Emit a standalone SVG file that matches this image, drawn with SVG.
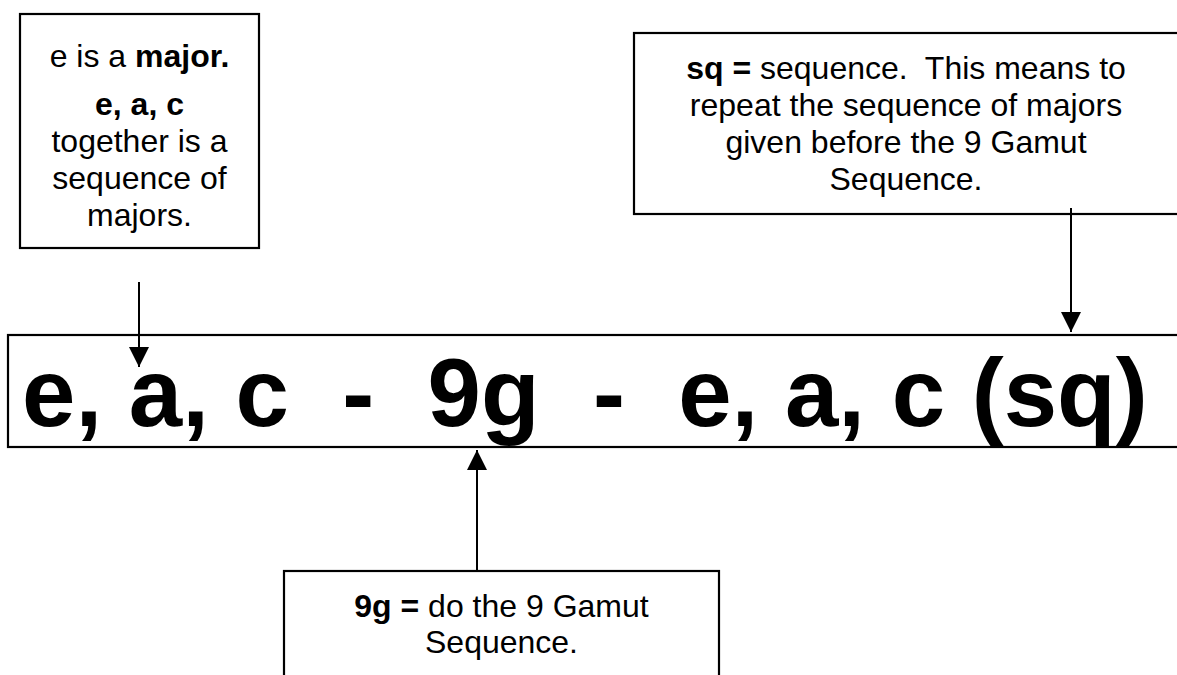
<svg xmlns="http://www.w3.org/2000/svg" width="1177" height="675" viewBox="0 0 1177 675">
<style>
  .box { fill: #ffffff; stroke: #000000; stroke-width: 2.2; }
  .t { font-family: "Liberation Sans", Arial, sans-serif; font-size: 32px; fill: #000000; text-anchor: middle; }
  .b { font-weight: bold; }
  .main { font-family: "Liberation Sans", Arial, sans-serif; font-size: 96px; font-weight: bold; fill: #000000; white-space: pre; }
  .conn { stroke: #000000; stroke-width: 2; fill: none; }
</style>
<defs>
  <marker id="arrow" markerUnits="userSpaceOnUse" markerWidth="20" markerHeight="20" refX="20" refY="10" orient="auto" viewBox="0 0 20 20">
    <path d="M0,0 L20,10 L0,20 Z" fill="#000000"/>
  </marker>
</defs>
<rect width="1177" height="675" fill="#ffffff"/>

<g id="node-major">
  <rect class="box" x="20" y="14" width="239" height="234"/>
  <text class="t" x="139.5" y="67">e is a <tspan class="b">major.</tspan></text>
  <text class="t b" x="139.5" y="115">e, a, c</text>
  <text class="t" x="139.5" y="152">together is a</text>
  <text class="t" x="139.5" y="189">sequence of</text>
  <text class="t" x="139.5" y="226">majors.</text>
</g>

<g id="node-sq">
  <rect class="box" x="634" y="33" width="560" height="181"/>
  <text class="t" x="906" y="79" xml:space="preserve"><tspan class="b">sq =</tspan> sequence.  This means to</text>
  <text class="t" x="906" y="116">repeat the sequence of majors</text>
  <text class="t" x="906" y="153">given before the 9 Gamut</text>
  <text class="t" x="906" y="190">Sequence.</text>
</g>

<g id="node-main">
  <rect class="box" x="8" y="335" width="1190" height="112"/>
  <text class="main" x="22" y="426" xml:space="preserve">e, a, c  -  9g  -  e, a, c (sq)</text>
</g>

<g id="node-9g">
  <rect class="box" x="284" y="571" width="435" height="130"/>
  <text class="t" x="501.5" y="617"><tspan class="b">9g =</tspan> do the 9 Gamut</text>
  <text class="t" x="501.5" y="653">Sequence.</text>
</g>

<g id="connectors">
  <line class="conn" x1="139" y1="282" x2="139" y2="367" marker-end="url(#arrow)"/>
  <line class="conn" x1="1071" y1="208" x2="1071" y2="332" marker-end="url(#arrow)"/>
  <line class="conn" x1="477" y1="571" x2="477" y2="450" marker-end="url(#arrow)"/>
</g>
</svg>
